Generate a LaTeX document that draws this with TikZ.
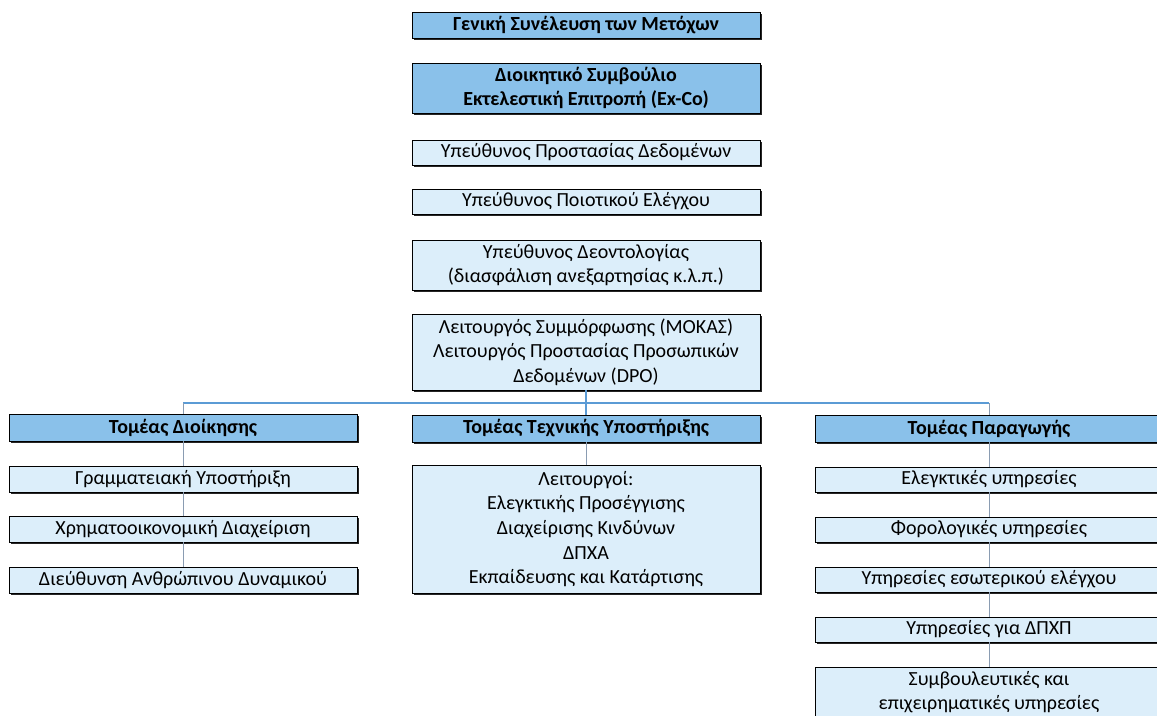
\documentclass[tikz,border=0pt]{standalone}
\usepackage{fontspec}
\setmainfont{Carlito}
\usepackage{xcolor}
\usepackage{tikz}
\usetikzlibrary{shadows}
\definecolor{headblue}{HTML}{8AC1EA}
\definecolor{unitblue}{HTML}{DCEEFA}
\definecolor{barblue}{HTML}{5B9BD5}
\definecolor{stemgray}{HTML}{8A9CB2}
\tikzset{
	org box/.style={draw=black,line width=0.7pt,align=center,inner sep=0pt,
		minimum width=261pt,minimum height=19.5pt,
		drop shadow={fill=black!85,opacity=1,shadow xshift=1.5pt,shadow yshift=-1.5pt}},
	head box/.style={org box,fill=headblue,font=\fontsize{15}{18.5}\selectfont\bfseries},
	unit box/.style={org box,fill=unitblue,font=\fontsize{15}{18.5}\selectfont},
	bar link/.style={draw=barblue,line width=0.8pt},
	stem/.style={draw=stemgray,line width=0.6pt}
}

\begin{document}
\begin{tikzpicture}[x=0.75pt,y=-0.75pt]
	\fill[white] (0,0) rectangle (1157,715);
	\clip (0,0) rectangle (1157,715);
	% top chain
	\node [head box] (gsm) at (586,25) {Γενική Συνέλευση των Μετόχων};
	\node [head box,minimum height=37.5pt] (ds) at (586,88) {Διοικητικό Συμβούλιο\\Εκτελεστική Επιτροπή (Ex-Co)};
	\node [unit box,minimum height=18.75pt] (ypd) at (586,152.5) {Υπεύθυνος Προστασίας Δεδομένων};
	\node [unit box,minimum height=18.75pt] (ype) at (586,201.5) {Υπεύθυνος Ποιοτικού Ελέγχου};
	\node [unit box,minimum height=37.5pt] (yd) at (586,265) {Υπεύθυνος Δεοντολογίας\\(διασφάλιση ανεξαρτησίας κ.λ.π.)};
	\node [unit box,minimum height=57pt] (lsm) at (586,352) {Λειτουργός Συμμόρφωσης (ΜΟΚΑΣ)\\Λειτουργός Προστασίας Προσωπικών\\Δεδομένων (DPO)};
	% sectors
	\node [head box,minimum height=20.25pt] (tdi) at (183,427.5) {Τομέας Διοίκησης};
	\node [head box,minimum height=20.25pt] (tte) at (586,428.5) {Τομέας Τεχνικής Υποστήριξης};
	\node [head box,minimum height=20.25pt] (tpa) at (989,428.5) {Τομέας Παραγωγής};
	% left column
	\node [unit box] (gram) at (183,479) {Γραμματειακή Υποστήριξη};
	\node [unit box] (xrim) at (183,529) {Χρηματοοικονομική Διαχείριση};
	\node [unit box] (dieu) at (183,580) {Διεύθυνση Ανθρώπινου Δυναμικού};
	% middle column
	\node [unit box,minimum height=96pt] (leit) at (586,529) {Λειτουργοί:\\Ελεγκτικής Προσέγγισης\\Διαχείρισης Κινδύνων\\ΔΠΧΑ\\Εκπαίδευσης και Κατάρτισης};
	% right column
	\node [unit box,minimum height=18.75pt] (eleg) at (989,479.5) {Ελεγκτικές υπηρεσίες};
	\node [unit box,minimum height=18.75pt] (foro) at (989,529.5) {Φορολογικές υπηρεσίες};
	\node [unit box,minimum height=18.75pt] (yee) at (989,579.5) {Υπηρεσίες εσωτερικού ελέγχου};
	\node [unit box,minimum height=18.75pt] (ydp) at (989,629.5) {Υπηρεσίες για ΔΠΧΠ};
	\node [unit box,minimum height=37.5pt] (symb) at (989,692) {Συμβουλευτικές και\\επιχειρηματικές υπηρεσίες};
	% connectors
	\coordinate (barL) at (183,403);
	\coordinate (barR) at (989,403);
	\draw [bar link] (barL) -- (barR);
	\draw [bar link] (lsm.south) -- (tte.north);
	\draw [stem] (barL) -- (tdi.north);
	\draw [stem] (barR) -- (tpa.north);
	\foreach \a/\b in {tdi/gram,gram/xrim,xrim/dieu,tte/leit,tpa/eleg,eleg/foro,foro/yee,yee/ydp,ydp/symb}
		\draw [stem] (\a.south) -- (\b.north);
\end{tikzpicture}
\end{document}
